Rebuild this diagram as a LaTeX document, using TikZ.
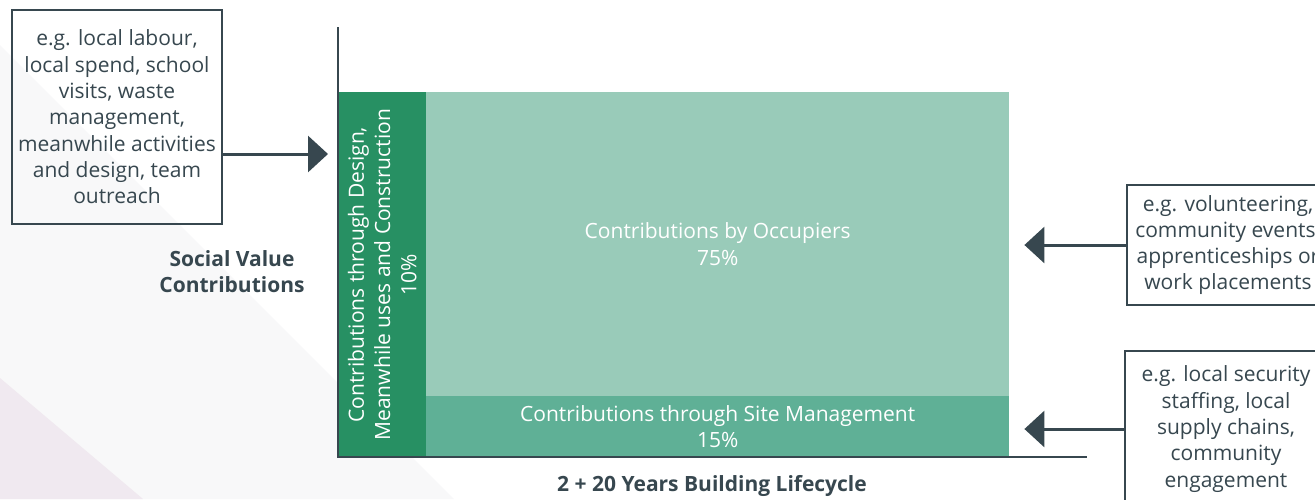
\documentclass[tikz,border=0pt]{standalone}
\usepackage{fontspec}
\setmainfont{Open Sans}
\usetikzlibrary{arrows.meta}

\definecolor{slate}{HTML}{37474F}
\definecolor{darkgreen}{HTML}{279063}
\definecolor{palegreen}{HTML}{99CBB9}
\definecolor{midgreen}{HTML}{5FB096}
\definecolor{bggrey}{HTML}{F8F8F9}
\definecolor{bglilac}{HTML}{F0E9F0}

\begin{document}
\begin{tikzpicture}[x=1pt,y=-1pt,
  example/.style={draw=slate,line width=2.6pt,text=slate,align=center,inner sep=0pt,
    font=\fontsize{21}{26.3}\selectfont},
  feed/.style={draw=slate,line width=3pt,-{Triangle[length=20pt,width=36pt]}},
  block/.style={anchor=north west,inner sep=0pt,text=white,align=center,
    font=\fontsize{21}{26.3}\selectfont},
  caption/.style={text=slate,align=center,font=\bfseries\fontsize{21}{26}\selectfont}]
\useasboundingbox (0,0) rectangle (1315,499);
\clip (0,0) rectangle (1315,499);

% background wedges
\fill[white] (0,0) rectangle (1315,499);
\fill[bggrey] (0,45) -- (454,499) -- (0,499) -- cycle;
\fill[bglilac] (0,378) -- (143,499) -- (0,499) -- cycle;

% stacked contributions
\node[block,fill=palegreen,minimum width=583,minimum height=304] (occupiers) at (426,92)
  {Contributions by Occupiers\\75\%};
\node[block,fill=midgreen,minimum width=583,minimum height=61] (site) at (426,396)
  {Contributions through Site Management\\15\%};
\node[block,fill=darkgreen,minimum width=88,minimum height=365] (design) at (338,92) {};
\node[rotate=90,text=white,align=center,font=\fontsize{21}{26.3}\selectfont] (designtxt) at (design.center)
  {Contributions through Design,\\Meanwhile uses and Construction\\10\%};

% axes
\coordinate (ytop) at (338,27);
\coordinate (xend) at (1087,457);
\draw[slate,line width=2.6pt] (ytop) |- (xend);

\node[caption] (svc) at (232,272) {Social Value\\Contributions};
\node[caption] (life) at (712,486) {2 + 20 Years Building Lifecycle};

% example boxes
\node[example,minimum width=210,minimum height=214] (labour) at (117,117)
  {e.g. local labour,\\local spend, school\\visits, waste\\management,\\meanwhile activities\\and design, team\\outreach};
\node[example,minimum width=202,minimum height=120] (volunteer) at (1228,245)
  {e.g. volunteering,\\community events,\\apprenticeships or\\work placements};
\node[example,minimum width=202,minimum height=156] (security) at (1226,429)
  {e.g. local security\\staffing, local\\supply chains,\\community\\engagement};

% arrows
\coordinate (indesign) at (328,154);
\draw[feed] (labour.east |- indesign) -- (indesign);
\draw[feed] (volunteer.west) -- ([xshift=15pt]occupiers.east |- volunteer.west);
\draw[feed] (security.west) -- ([xshift=15pt]site.east |- security.west);
\end{tikzpicture}
\end{document}
